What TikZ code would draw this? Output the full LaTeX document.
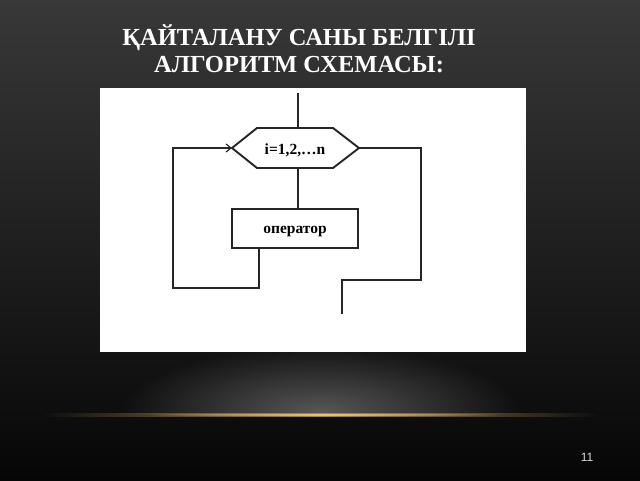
\documentclass[tikz,border=0pt]{standalone}
\usepackage{fontspec}
\setmainfont{Liberation Serif}
\newfontfamily\numfont{Liberation Sans}
\usetikzlibrary{arrows.meta,fadings}
\definecolor{bgtop}{HTML}{383838}
\definecolor{bgmid}{HTML}{131313}
\definecolor{bgbot}{HTML}{060606}
\definecolor{glowc}{HTML}{6a6a6a}
\definecolor{goldc}{HTML}{F0C070}
\tikzfading[name=glowfade, inner color=transparent!20, outer color=transparent!100]
\tikzfading[name=hfade, left color=transparent!100, right color=transparent!100, middle color=transparent!0]
\tikzset{
  flow/.style={line width=1.2pt, draw=black!85},
  shapeline/.style={draw=black!85, line width=1.9pt},
  opbox/.style={draw=black!85, line width=1.9pt, minimum width=126pt, minimum height=39pt, inner sep=0pt},
  lbl/.style={font=\fontsize{15.5}{18}\selectfont\bfseries},
  titletxt/.style={font=\fontsize{24.5}{27}\selectfont\bfseries, text=white, align=center}
}
\begin{document}
\begin{tikzpicture}[x=1pt,y=-1pt]
\useasboundingbox (0,0) rectangle (640,480);
% background
\shade[top color=bgtop, bottom color=bgmid] (0,0) rectangle (640,360);
\shade[top color=bgmid, bottom color=bgbot] (0,360) rectangle (640,480);
\begin{scope}
\clip (0,330) rectangle (640,414);
\fill[glowc, path fading=glowfade] (320,412) ellipse [x radius=200, y radius=65];
\end{scope}
\fill[goldc!70!black, path fading=hfade] (40,412.5) rectangle (600,416.5);
\fill[goldc, path fading=hfade] (150,413.5) rectangle (500,415.5);
% title
\node[titletxt] (title) at (299,49) {ҚАЙТАЛАНУ САНЫ БЕЛГІЛІ\\АЛГОРИТМ СХЕМАСЫ:};
% page number
\node[font=\numfont\fontsize{12}{13}\selectfont, text=white!85!black] (pg) at (587,457) {11};
% white panel
\fill[white] (100,88) rectangle (526,352);
% flowchart
\coordinate (top) at (298,93);
\coordinate (hexL) at (232,148);
\coordinate (hexR) at (359,148);
\coordinate (hexT) at (298,128);
\coordinate (hexB) at (298,168);
\draw[shapeline] (hexL) -- (257,128) -- (333,128) -- (hexR) -- (333,168) -- (257,168) -- cycle;
\node[lbl] (hex) at (295,150) {i=1,2,…n};
\node[opbox, fill=white] (op) at (295,228.5) {};
\node[lbl] (optxt) at (295,231.5) {оператор};
\draw[flow] (top) -- (hexT);
\draw[flow] (hexB) -- (op.north -| hexB);
\coordinate (l0) at (259,248);
\coordinate (l1) at (259,288);
\coordinate (l2) at (173,288);
\coordinate (l3) at (173,148);
\draw[flow, -{Straight Barb[length=5pt,width=8pt]}] (l0) -- (l1) -- (l2) -- (l3) -- (hexL);
\coordinate (r1) at (421,148);
\coordinate (r2) at (421,280);
\coordinate (r3) at (342,280);
\coordinate (r4) at (342,314);
\draw[flow] (hexR) -- (r1) -- (r2) -- (r3) -- (r4);
\end{tikzpicture}
\end{document}
